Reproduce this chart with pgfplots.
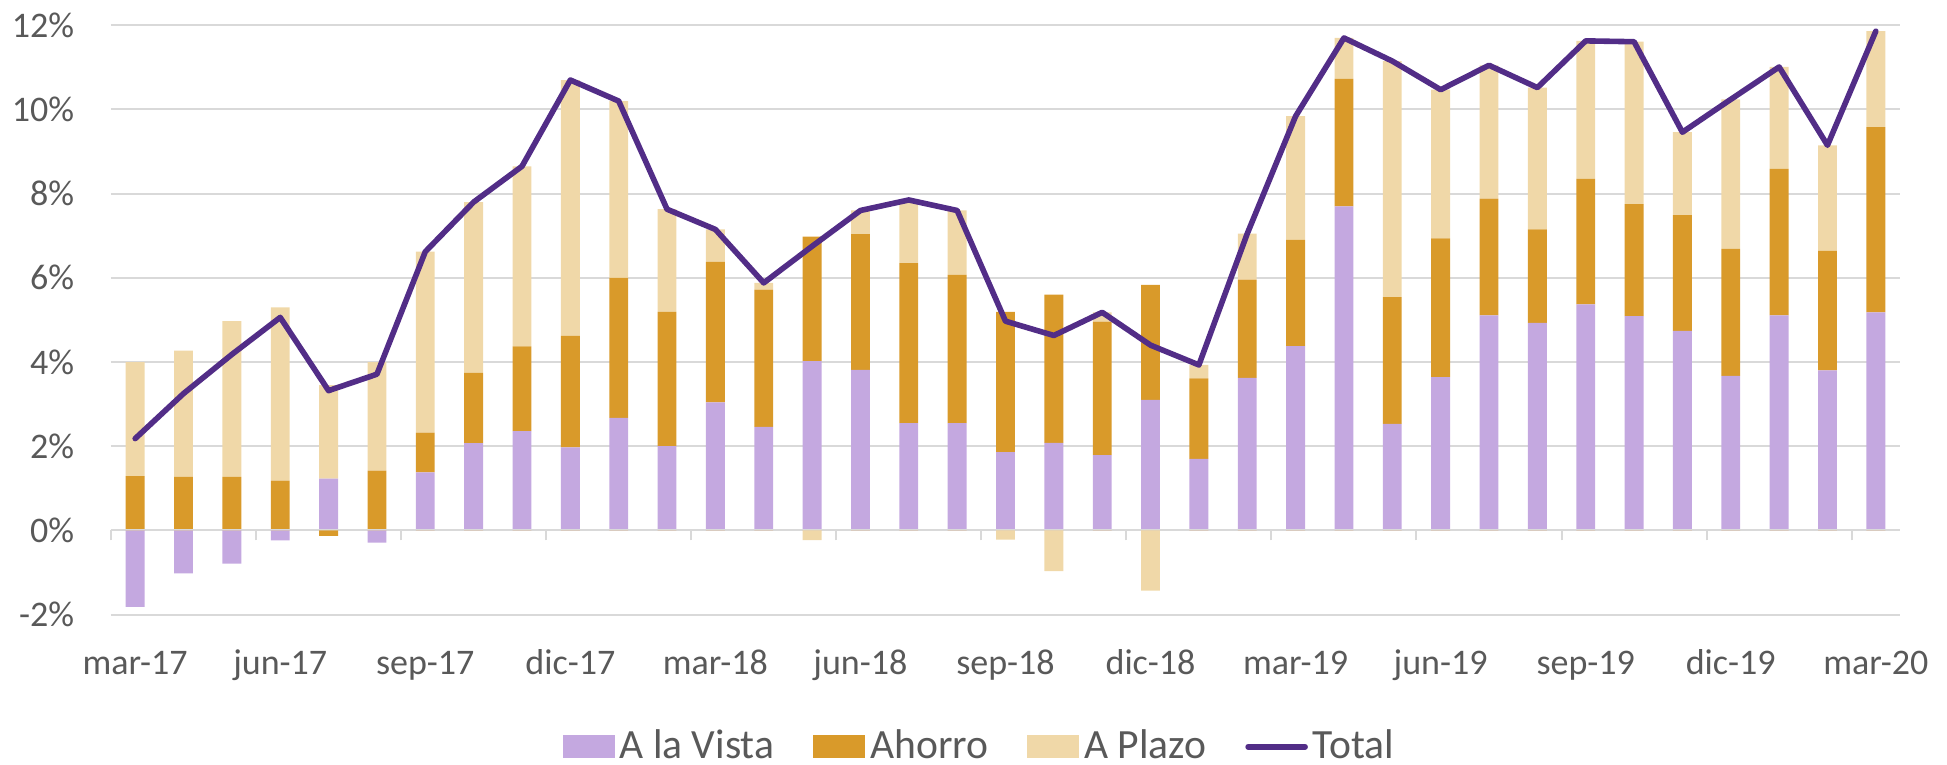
\documentclass[border=0pt]{standalone}
\usepackage{fontspec}
\setmainfont{Carlito}
\usepackage{pgfplots}
\usepackage{pgfplotstable}
\pgfplotsset{compat=1.18}

\definecolor{vista}{RGB}{196,168,224}
\definecolor{ahorro}{RGB}{217,154,42}
\definecolor{plazo}{RGB}{240,216,168}
\definecolor{totc}{RGB}{82,45,135}
\definecolor{labc}{RGB}{89,89,89}
\definecolor{gridc}{RGB}{217,217,217}

\pgfplotsset{
  barleg/.style={legend image code/.code={\fill[##1] (0pt,-2.9pt) rectangle (13pt,2.85pt);}},
  common/.style={
    at={(0,0)}, anchor=south west,
    scale only axis, width=447.25pt, height=147.3pt,
    xmin=-0.5, xmax=36.5, ymin=-2, ymax=12,
    bar width=0.39,
  },
}

% positive parts stacked, negative parts drawn below zero (Excel style)
\pgfplotstableread{
x vp ap pp vn an pn t
0 0 1.29 2.71 -1.82 0 0 2.18
1 0 1.27 3.00 -1.02 0 0 3.25
2 0 1.27 3.70 -0.79 0 0 4.18
3 0 1.18 4.12 -0.24 0 0 5.06
4 1.23 0 2.22 0 -0.13 0 3.32
5 0 1.42 2.58 -0.29 0 0 3.71
6 1.38 0.94 4.30 0 0 0 6.62
7 2.07 1.67 4.06 0 0 0 7.80
8 2.36 2.01 4.28 0 0 0 8.65
9 1.97 2.65 6.08 0 0 0 10.70
10 2.67 3.33 4.20 0 0 0 10.20
11 2.00 3.19 2.44 0 0 0 7.63
12 3.04 3.34 0.77 0 0 0 7.15
13 2.46 3.26 0.16 0 0 0 5.88
14 4.02 2.96 0 0 0 -0.23 6.75
15 3.81 3.23 0.56 0 0 0 7.60
16 2.55 3.80 1.50 0 0 0 7.85
17 2.55 3.52 1.53 0 0 0 7.60
18 1.86 3.33 0 0 0 -0.22 4.97
19 2.08 3.52 0 0 0 -0.97 4.63
20 1.79 3.17 0.22 0 0 0 5.18
21 3.10 2.73 0 0 0 -1.43 4.40
22 1.70 1.91 0.32 0 0 0 3.93
23 3.62 2.34 1.09 0 0 0 7.05
24 4.38 2.52 2.94 0 0 0 9.84
25 7.70 3.03 0.97 0 0 0 11.70
26 2.53 3.01 5.61 0 0 0 11.15
27 3.64 3.30 3.53 0 0 0 10.47
28 5.11 2.77 3.17 0 0 0 11.05
29 4.93 2.22 3.37 0 0 0 10.52
30 5.37 2.98 3.28 0 0 0 11.63
31 5.09 2.66 3.86 0 0 0 11.61
32 4.74 2.75 1.97 0 0 0 9.46
33 3.67 3.02 3.55 0 0 0 10.24
34 5.11 3.48 2.42 0 0 0 11.01
35 3.80 2.84 2.51 0 0 0 9.15
36 5.18 4.40 2.28 0 0 0 11.86
}\datatable

\begin{document}
\begin{tikzpicture}
\begin{axis}[
  common,
  ybar stacked,
  axis line style={draw=none},
  major tick length=0pt,
  ytick={-2,0,...,12},
  yticklabels={-2\%,0\%,2\%,4\%,6\%,8\%,10\%,12\%},
  xtick={0,3,...,36},
  xticklabels={mar-17,jun-17,sep-17,dic-17,mar-18,jun-18,sep-18,dic-18,mar-19,jun-19,sep-19,dic-19,mar-20},
  ymajorgrids, grid style={color=gridc, line width=0.5pt},
  tick label style={font=\fontsize{9}{11}\selectfont, text=labc},
  yticklabel style={anchor=east, inner sep=0pt, xshift=-9pt},
  xticklabel style={anchor=base, inner sep=0pt, yshift=-15.1pt},
  legend columns=4,
  legend style={at={(0.4863,-0.2246)}, anchor=center, draw=none, fill=none,
    inner sep=0pt, font=\fontsize{10.4}{12}\selectfont, text=labc,
    nodes={inner xsep=1.25pt},
    /tikz/every even column/.append style={column sep=8.5pt}},
]
\addplot[fill=vista, draw=none, barleg] table[x=x, y=vp] {\datatable};
\addplot[fill=ahorro, draw=none, barleg] table[x=x, y=ap] {\datatable};
\addplot[fill=plazo, draw=none, barleg] table[x=x, y=pp] {\datatable};
\addlegendimage{legend image code/.code={\draw[totc, line width=1.4pt, line cap=round] (0pt,0pt) -- (14.25pt,0pt);}}
\legend{A la Vista, Ahorro, A Plazo, Total}
\end{axis}

\begin{axis}[
  common,
  ybar, bar shift=0pt,
  axis x line=middle, axis y line=none,
  x axis line style={-, color=gridc, line width=0.5pt},
  xtick={-0.5,2.5,...,35.5}, xticklabels={}, ytick=\empty,
  tick align=outside, major tick length=2.5pt,
  xtick style={color=gridc, line width=0.5pt},
]
\addplot[fill=vista, draw=none] table[x=x, y=vn] {\datatable};
\addplot[fill=ahorro, draw=none] table[x=x, y=an] {\datatable};
\addplot[fill=plazo, draw=none] table[x=x, y=pn] {\datatable};
\addplot[sharp plot, color=totc, line width=1.4pt, line join=round, line cap=round] table[x=x, y=t] {\datatable};
\end{axis}

\pgfresetboundingbox
\useasboundingbox (-27.75pt,-37.375pt) rectangle (459pt,153.625pt);
\end{tikzpicture}
\end{document}
